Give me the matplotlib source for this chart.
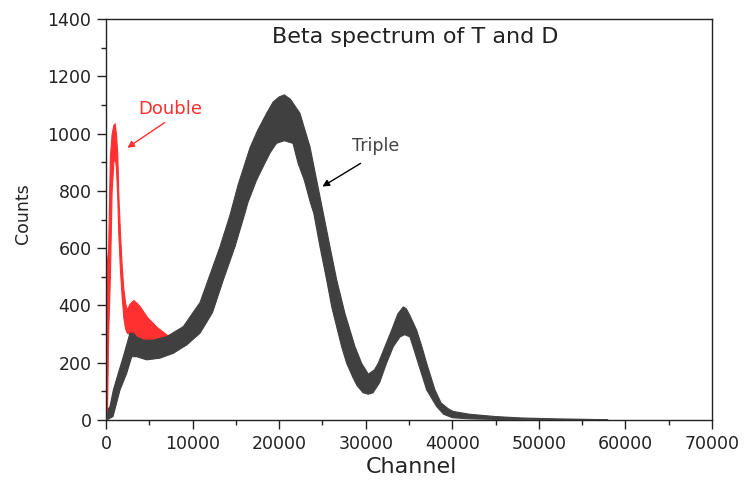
import matplotlib
matplotlib.use("Agg")
import matplotlib.pyplot as plt
from matplotlib.ticker import MultipleLocator

plt.rcParams['font.family'] = ['DejaVu Sans']

# Double (red) spectrum: upper / lower envelope of the noisy trace
double_x = [0, 100, 250, 450, 650, 850, 1000, 1150, 1300, 1420, 1620, 1810, 2000, 2200,
            2400, 2700, 3160, 3500, 3930, 4700, 5850, 7010, 8000]
double_upper = [0, 550, 600, 920, 1000, 1030, 1036, 1000, 930, 790, 650, 540, 460, 410,
                385, 405, 419, 410, 396, 361, 325, 298, 290]
double_lower = [0, 0, 300, 500, 800, 900, 920, 880, 780, 650, 520, 430, 360, 320,
                305, 300, 300, 290, 280, 270, 270, 280, 290]

# Triple (dark) spectrum: upper envelope
triple_up_x = [80, 300, 460, 850, 1420, 2000, 2770, 3160, 3540, 4310, 5470, 7010, 8930,
               10280, 10860, 11630, 12400, 13170, 14320, 15250, 16630, 17500, 18560, 19300,
               20000, 20600, 21300, 22400, 23560, 24330, 25100, 25870, 26650, 27600, 28760,
               29530, 30300, 31000, 31450, 32220, 33000, 33700, 34340, 34700, 35100, 35880,
               36500, 37040, 38000, 38700, 39500, 40080, 42000, 45000, 48000, 52000, 56000,
               58000]
triple_up = [0, 40, 47, 105, 163, 221, 303, 303, 290, 279, 279, 291, 326,
             385, 410, 475, 540, 605, 715, 820, 950, 1010, 1071, 1110,
             1128, 1135, 1120, 1071, 954, 838, 722, 605, 489, 372, 256,
             198, 160, 175, 198, 256, 314, 370, 395, 388, 365, 314,
             255, 198, 105, 60, 40, 30, 20, 12, 7, 4, 2,
             0]

# Triple (dark) spectrum: lower envelope
triple_lo_x = [80, 810, 1620, 2390, 2970, 3540, 4700, 6240, 7780, 9320, 10860, 12300,
               13550, 14900, 16050, 16400, 17400, 18360, 19000, 19700, 20600, 21600, 22180,
               22900, 23600, 24000, 24720, 25490, 26070, 26260, 27220, 27800, 28500, 29000,
               29700, 30300, 30840, 31600, 32400, 33190, 33960, 34500, 35110, 36070, 37040,
               38190, 39000, 40000, 42000, 45000, 48000, 52000, 58000]
triple_lo = [0, 12, 105, 163, 221, 221, 210, 216, 233, 262, 303, 375,
             489, 605, 722, 760, 838, 897, 935, 966, 975, 966, 897,
             838, 760, 722, 605, 489, 396, 372, 256, 198, 150, 120,
             95, 90, 95, 130, 198, 256, 290, 298, 290, 198, 105,
             47, 20, 8, 4, 2, 1, 0, 0]

x_ticks = [0, 10000, 20000, 30000, 40000, 50000, 60000, 70000]
y_ticks = [0, 200, 400, 600, 800, 1000, 1200, 1400]

RED = '#ff3030'
DARK = '#404040'
TXT = '#222222'

fig = plt.figure(figsize=(7.44, 4.8), dpi=100)
ax = fig.add_axes([106/744, 1 - 420/480, (712 - 106)/744, (420 - 19)/480])

ax.fill_between(double_x, double_lower, double_upper, color=RED, lw=0.8, edgecolor=RED, zorder=2)

# Build the dark band as one polygon from its upper and lower envelopes
poly_x = list(triple_up_x) + list(reversed(triple_lo_x))
poly_y = list(triple_up) + list(reversed(triple_lo))
ax.fill(poly_x, poly_y, color=DARK, lw=0.8, edgecolor=DARK, zorder=3)

ax.set_xlim(0, 70000)
ax.set_ylim(0, 1400)
ax.set_xticks(x_ticks)
ax.set_yticks(y_ticks)
ax.xaxis.set_minor_locator(MultipleLocator(5000))
ax.yaxis.set_minor_locator(MultipleLocator(100))
ax.tick_params(which='major', direction='out', length=6.5, width=1, labelsize=12.5,
               colors=TXT, pad=4, top=False, right=False)
ax.tick_params(which='minor', direction='out', length=3.5, width=1, top=False, right=False,
               colors=TXT)
for s in ax.spines.values():
    s.set_color('#222222')
    s.set_linewidth(1)

ax.set_xlabel('Channel', fontsize=16, color=TXT, va='center')
ax.xaxis.set_label_coords((411 - 106) / 606, (420 - 467) / 401)
ax.set_ylabel('Counts', fontsize=12.5, color=TXT, va='center')
ax.yaxis.set_label_coords((23 - 106) / 606, (420 - 213.5) / 401)

ax.text(35690, 1337, 'Beta spectrum of T and D', fontsize=16, color=TXT,
        ha='center', va='center', zorder=5)

ax.text(7450, 1085, 'Double', fontsize=13, color=RED, ha='center', va='center', zorder=5)
ax.annotate('', xy=(2195, 945), xytext=(7045, 1044),
            arrowprops=dict(arrowstyle='-|>', color=RED, lw=1, mutation_scale=10), zorder=5)

ax.text(31185, 957, 'Triple', fontsize=12.5, color='#444444', ha='center', va='center', zorder=5)
ax.annotate('', xy=(24720, 810), xytext=(29680, 901),
            arrowprops=dict(arrowstyle='-|>', color='black', lw=1, mutation_scale=10), zorder=5)

fig.savefig('out.png', dpi=100)
